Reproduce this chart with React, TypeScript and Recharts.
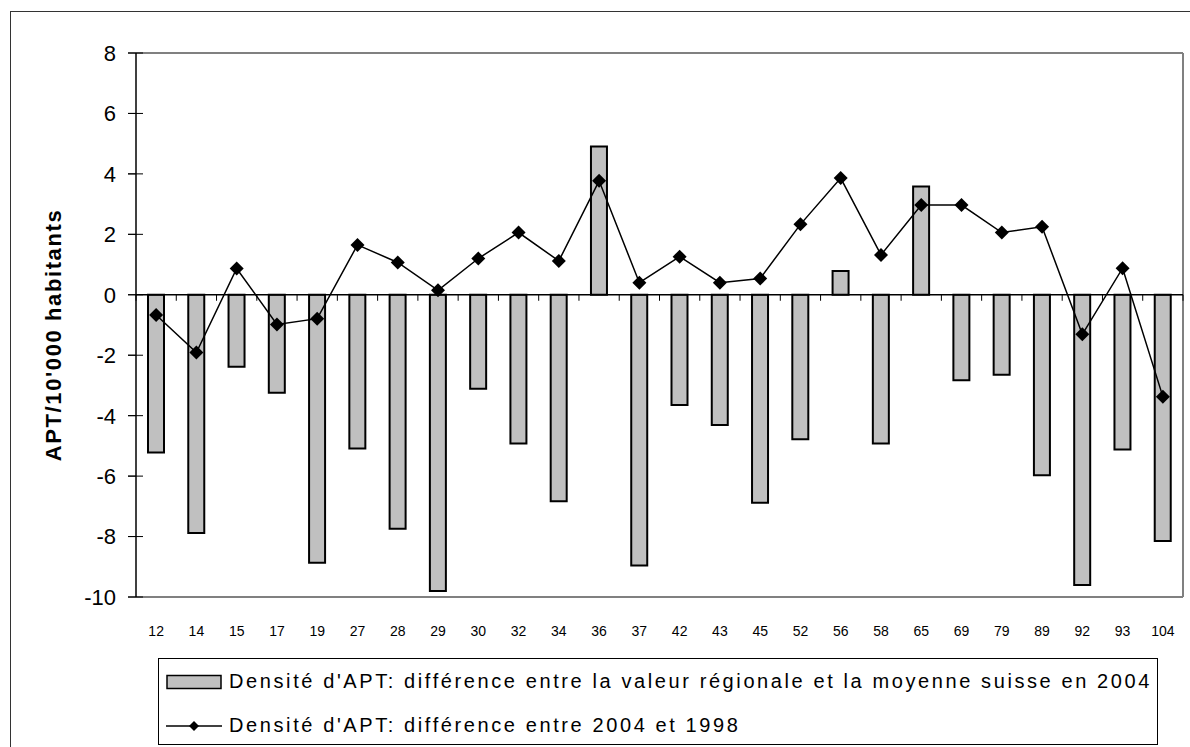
import React from 'react';
import {
  ComposedChart,
  Bar,
  Line,
  XAxis,
  YAxis,
  ReferenceLine,
  Legend,
  Label,
} from 'recharts';

// Regions (x categories)
const regions = [
  '12', '14', '15', '17', '19', '27', '28', '29', '30', '32', '34', '36', '37',
  '42', '43', '45', '52', '56', '58', '65', '69', '79', '89', '92', '93', '104',
];

// Difference between regional value and Swiss average in 2004
const diffSuisse2004 = [
  -5.22, -7.88, -2.38, -3.24, -8.87, -5.09, -7.74, -9.8, -3.11, -4.92, -6.83, 4.91, -8.96,
  -3.65, -4.31, -6.88, -4.78, 0.79, -4.92, 3.58, -2.83, -2.65, -5.97, -9.6, -5.12, -8.15,
];

// Difference between 2004 and 1998
const diff2004vs1998 = [
  -0.67, -1.91, 0.87, -0.98, -0.79, 1.65, 1.07, 0.15, 1.2, 2.06, 1.12, 3.77, 0.4,
  1.26, 0.4, 0.54, 2.33, 3.86, 1.32, 2.97, 2.97, 2.06, 2.25, -1.31, 0.88, -3.37,
];

const yDomain = [-10, 8];
const yTicks = [-10, -8, -6, -4, -2, 0, 2, 4, 6, 8];

const barLabel = "Densité d'APT: différence entre la valeur régionale et la moyenne suisse en 2004";
const lineLabel = "Densité d'APT: différence entre 2004 et 1998";

const data = regions.map((r, i) => ({
  region: r,
  bar: diffSuisse2004[i],
  line: diff2004vs1998[i],
}));

const FONT = '"Liberation Sans", Arial, sans-serif';

const Diamond = (props: any) => {
  const { cx, cy } = props;
  if (cx == null || cy == null) return null;
  const r = 7;
  return (
    <polygon
      points={`${cx},${cy - r} ${cx + r},${cy} ${cx},${cy + r} ${cx - r},${cy}`}
      fill="#000"
    />
  );
};

// short tick hanging below the zero line at a category boundary
const ZeroTick = (props: any) => {
  const { x1, y1, y2 } = props;
  const top = Math.min(y1, y2);
  const bottom = Math.max(y1, y2);
  const y0 = top + ((bottom - top) * yDomain[1]) / (yDomain[1] - yDomain[0]);
  return <line x1={x1} y1={y0} x2={x1} y2={y0 + 6} stroke="#000" strokeWidth={1} />;
};

const YTick = (props: any) => {
  const { x, y, payload } = props;
  return (
    <g>
      <line x1={x + 12} y1={y} x2={x + 27} y2={y} stroke="#000" strokeWidth={1} />
      <text x={x} y={y} dy="0.36em" textAnchor="end" fontSize={22} fontFamily={FONT} fill="#000">
        {payload.value}
      </text>
    </g>
  );
};

const YTitle = (props: any) => {
  const { viewBox } = props;
  const cx = 53;
  const cy = viewBox.y + viewBox.height / 2 + 10;
  return (
    <text
      x={cx}
      y={cy}
      transform={`rotate(-90, ${cx}, ${cy})`}
      textAnchor="middle"
      dominantBaseline="central"
      fontSize={22}
      fontWeight="bold"
      letterSpacing={1.6}
      fontFamily={FONT}
      fill="#000"
    >
      APT/10'000 habitants
    </text>
  );
};

const LegendBox = () => (
  <div
    style={{
      width: 1000,
      height: 87,
      boxSizing: 'border-box',
      border: '1px solid #000',
      background: '#fff',
      fontFamily: FONT,
      fontSize: 20,
      letterSpacing: 2.6,
      color: '#000',
      position: 'relative',
    }}
  >
    <div style={{ position: 'absolute', left: 7, top: 11, display: 'flex', alignItems: 'center' }}>
      <svg width={56} height={16}>
        <rect x={1} y={1.5} width={54} height={13} fill="#C0C0C0" stroke="#000" strokeWidth={1.5} />
      </svg>
      <span style={{ marginLeft: 7, whiteSpace: 'nowrap' }}>{barLabel}</span>
    </div>
    <div style={{ position: 'absolute', left: 7, top: 55, display: 'flex', alignItems: 'center' }}>
      <svg width={56} height={16}>
        <line x1={0} y1={8} x2={56} y2={8} stroke="#000" strokeWidth={1.5} />
        <polygon points="28,3 33,8 28,13 23,8" fill="#000" />
      </svg>
      <span style={{ marginLeft: 7, whiteSpace: 'nowrap' }}>{lineLabel}</span>
    </div>
  </div>
);

export default function App() {
  return (
    <div style={{ position: 'absolute', left: 0, top: 0, width: 1190, height: 747, overflow: 'hidden', background: '#fff' }}>
      <div
        style={{
          position: 'absolute',
          left: 10,
          top: 11,
          width: 1250,
          height: 800,
          border: '1.5px solid #333',
        }}
      />
      <div style={{ position: 'absolute', left: 0, top: 0 }}>
        <ComposedChart
          width={1190}
          height={747}
          data={data}
          margin={{ top: 53, right: 7, bottom: 110, left: 56 }}
          barCategoryGap={0}
        >
          <XAxis
            dataKey="region"
            tickLine={false}
            tickSize={0}
            tickMargin={29}
            height={40}
            axisLine={{ stroke: '#808080', strokeWidth: 2 }}
            tick={{ fontSize: 14, fontFamily: FONT, fill: '#000' }}
            interval={0}
          />
          <YAxis
            domain={yDomain}
            ticks={yTicks}
            type="number"
            allowDataOverflow
            width={80}
            tickSize={8}
            tickMargin={12}
            tickLine={{ stroke: '#000' }}
            axisLine={{ stroke: '#000', strokeWidth: 1.5 }}
            tick={<YTick />}
          >
            <Label content={<YTitle />} />
          </YAxis>
          <ReferenceLine y={8} stroke="#808080" strokeWidth={2} />
          <ReferenceLine x="104" position="end" stroke="#808080" strokeWidth={2} />
          <Bar
            dataKey="bar"
            name={barLabel}
            fill="#C0C0C0"
            stroke="#000"
            strokeWidth={2}
            barSize={16}
            isAnimationActive={false}
          />
          <ReferenceLine y={0} stroke="#000" strokeWidth={1.5} />
          {regions.map((r) => (
            <ReferenceLine
              key={`t-${r}`}
              x={r}
              position="start"
              stroke="#000"
              shape={<ZeroTick />}
            />
          ))}
          <ReferenceLine x="104" position="end" stroke="#000" shape={<ZeroTick />} />
          <Line
            dataKey="line"
            name={lineLabel}
            stroke="#000"
            strokeWidth={1.5}
            dot={<Diamond />}
            activeDot={false}
            isAnimationActive={false}
          />
          <Legend
            layout="horizontal"
            verticalAlign="middle"
            align="center"
            content={<LegendBox />}
            wrapperStyle={{ left: 158, top: 658, width: 1000, height: 87 }}
          />
        </ComposedChart>
      </div>
    </div>
  );
}
